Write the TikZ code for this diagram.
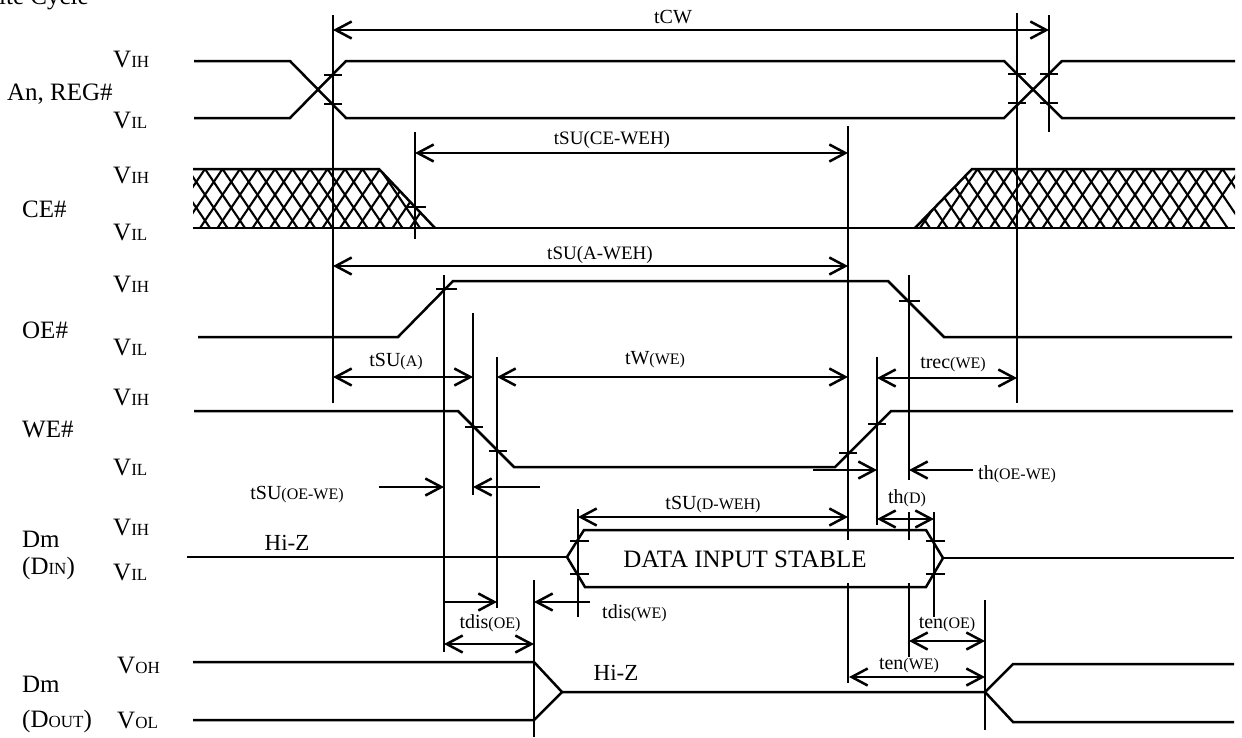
\documentclass[tikz,border=0pt]{standalone}
\usepackage{fontspec}
\setmainfont{Liberation Serif}
\usetikzlibrary{arrows.meta}
\newcommand\sm[1]{{\fontsize{16}{19}\selectfont #1}}
\newcommand\vs[1]{{\fontsize{17}{20}\selectfont #1}}
\tikzset{
  sig/.style={line width=2.5pt, line join=miter},
  refline/.style={line width=2.5pt},
  hatch/.style={line width=2.1pt},
  barb/.tip={Straight Barb[length=16pt,width=17pt]},
  dimboth/.style={line width=2.5pt, barb-barb},
  dimto/.style={line width=2.5pt, -barb},
  lvl/.style={inner sep=0pt, anchor=base west, font=\fontsize{25}{30}\selectfont},
  tlbl/.style={inner sep=0pt, font=\fontsize{20}{24}\selectfont},
}
\begin{document}
\begin{tikzpicture}[x=1pt,y=-1pt]
\useasboundingbox (0,0) rectangle (1242,737);
\clip (0,0) rectangle (1242,737);

\node[lvl] (title) at (-32,4) {Write Cycle};

% signal names and levels
\node[lvl] (an) at (7,100) {An, REG\#};
\node[lvl] (anh) at (113,67) {V\vs{IH}};
\node[lvl] (anl) at (113,128) {V\vs{IL}};
\node[lvl] (ce) at (22,217) {CE\#};
\node[lvl] (ceh) at (113,183) {V\vs{IH}};
\node[lvl] (cel) at (113,240) {V\vs{IL}};
\node[lvl] (oe) at (22,338) {OE\#};
\node[lvl] (oeh) at (113,292) {V\vs{IH}};
\node[lvl] (oel) at (113,355) {V\vs{IL}};
\node[lvl] (we) at (22,437) {WE\#};
\node[lvl] (weh) at (113,405) {V\vs{IH}};
\node[lvl] (wel) at (113,475) {V\vs{IL}};
\node[lvl] (din) at (22,547) {Dm};
\node[lvl] (dinb) at (22,574) {(D\vs{IN})};
\node[lvl] (dinh) at (113,535) {V\vs{IH}};
\node[lvl] (dinl) at (113,580) {V\vs{IL}};
\node[lvl] (dout) at (22,692) {Dm};
\node[lvl] (doutb) at (22,727) {(D\vs{OUT})};
\node[lvl] (douth) at (117,673) {V\vs{OH}};
\node[lvl] (doutl) at (117,728) {V\vs{OL}};

% An, REG#
\draw[sig] (194,61) -- (290,61) -- (346,118) -- (1004,118) -- (1062,61) -- (1235,61);
\draw[sig] (194,118) -- (290,118) -- (346,61) -- (1004,61) -- (1062,118) -- (1235,118);
\foreach \x/\y in {333/75, 333/104, 1017/74, 1017/103, 1049/74, 1049/103}
  \draw[sig] (\x-9,\y) -- (\x+9,\y);

% CE#
\begin{scope}
  \clip (193,169) -- (379,169) -- (435,228) -- (193,228) -- cycle;
  \foreach \i in {0,...,16}
    \draw[hatch] (170+17.5*\i,169) -- ++(40,59) (170+17.5*\i,169) -- ++(-40,59);
\end{scope}
\begin{scope}
  \clip (915,228) -- (972,169) -- (1235,169) -- (1235,228) -- cycle;
  \foreach \i in {0,...,20}
    \draw[hatch] (890+17.5*\i,169) -- ++(40,59) (890+17.5*\i,169) -- ++(-40,59);
\end{scope}
\draw[sig] (193,169) -- (379,169) -- (435,228);
\draw[sig] (193,228) -- (1235,228);
\draw[sig] (915,228) -- (972,169) -- (1235,169);
\draw[sig] (405,207) -- (426,207);

% OE#
\draw[sig] (198,337) -- (398,337) -- (453,281) -- (888,281) -- (944,337) -- (1232,337);
\draw[sig] (436,289) -- (457,289);
\draw[sig] (899,301) -- (920,301);

% WE#
\draw[sig] (194,411) -- (458,411) -- (514,467) -- (835,467) -- (891,411) -- (1233,411);
\foreach \x/\y in {474/427, 498/451, 848/453, 877/424}
  \draw[sig] (\x-9,\y) -- (\x+9,\y);

% Dm (DIN)
\draw[sig] (187,557) -- (567,557);
\draw[sig] (567,557) -- (584,530) -- (926,530) -- (943,558) -- (926,587) -- (585,587) -- cycle;
\draw[sig] (943,558) -- (1234,558);
\foreach \x/\y in {579/541, 579/574, 935/541, 935/574}
  \draw[sig] (\x-9,\y) -- (\x+10,\y);
\node[tlbl, font=\fontsize{25}{30}\selectfont] (stable) at (745,559) {DATA INPUT STABLE};
\node[tlbl, font=\fontsize{23}{28}\selectfont] (hizin) at (287,543) {Hi-Z};

% Dm (DOUT)
\draw[sig] (193,662) -- (534,662) -- (562,692) -- (985,692) -- (1013,664) -- (1234,664);
\draw[sig] (193,720) -- (534,720) -- (562,692);
\draw[sig] (985,692) -- (1013,722) -- (1234,722);
\node[tlbl, font=\fontsize{23}{28}\selectfont] (hizout) at (616,673) {Hi-Z};

% reference lines
\draw[refline] (333,15) -- (333,403);
\draw[refline] (415,132) -- (415,239);
\draw[refline] (444,275) -- (444,652);
\draw[refline] (473,313) -- (473,495);
\draw[refline] (497,357) -- (497,608);
\draw[refline] (534,580) -- (534,737);
\draw[refline] (578,509) -- (578,617);
\draw[refline] (848,126) -- (848,540) (848,583) -- (848,683);
\draw[refline] (877,357) -- (877,525);
\draw[refline] (909,275) -- (909,480) (909,512) -- (909,540) (909,583) -- (909,657);
\draw[refline] (934,512) -- (934,617);
\draw[refline] (985,600) -- (985,730);
\draw[refline] (1017,13) -- (1017,403);
\draw[refline] (1049,15) -- (1049,132);

% timing
\draw[dimboth] (333,30) -- (1049,30);
\node[tlbl] (tcw) at (673,17) {tCW};
\draw[dimboth] (415,153) -- (848,153);
\node[tlbl, font=\fontsize{19}{23}\selectfont] (tsuce) at (612,140) {tSU(CE-WEH)};
\draw[dimboth] (333,266) -- (848,266);
\node[tlbl, font=\fontsize{19}{23}\selectfont] (tsua) at (600,255) {tSU(A-WEH)};
\draw[dimboth] (333,377) -- (473,377);
\node[tlbl] (tsuaa) at (396,362) {tSU\sm{(A)}};
\draw[dimboth] (497,377) -- (848,377);
\node[tlbl] (tw) at (655,360) {tW\sm{(WE)}};
\draw[dimboth] (877,378) -- (1017,378);
\node[tlbl] (trec) at (953,365) {trec\sm{(WE)}};
\draw[dimto] (813,470) -- (877,470);
\draw[dimto] (973,470) -- (909,470);
\node[tlbl, anchor=west] (thoe) at (978,474) {th\sm{(OE-WE)}};
\draw[dimto] (379,487) -- (444,487);
\draw[dimto] (540,487) -- (473,487);
\node[tlbl] (tsuoe) at (297,495) {tSU\sm{(OE-WE)}};
\draw[dimboth] (578,517) -- (848,517);
\node[tlbl] (tsud) at (713,505) {tSU\sm{(D-WEH)}};
\draw[dimboth] (877,519) -- (934,519);
\node[tlbl] (thd) at (907,498) {th\sm{(D)}};
\draw[dimto] (444,602) -- (497,602);
\draw[dimto] (590,602) -- (534,602);
\node[tlbl, anchor=west] (tdiswe) at (602,613) {tdis\sm{(WE)}};
\draw[dimboth] (444,644) -- (534,644);
\node[tlbl] (tdisoe) at (490,623) {tdis\sm{(OE)}};
\draw[dimboth] (909,641) -- (985,641);
\node[tlbl] (tenoe) at (947,625) {ten\sm{(OE)}};
\draw[dimboth] (849,677) -- (985,677);
\node[tlbl] (tenwe) at (909,666) {ten\sm{(WE)}};
\end{tikzpicture}
\end{document}
